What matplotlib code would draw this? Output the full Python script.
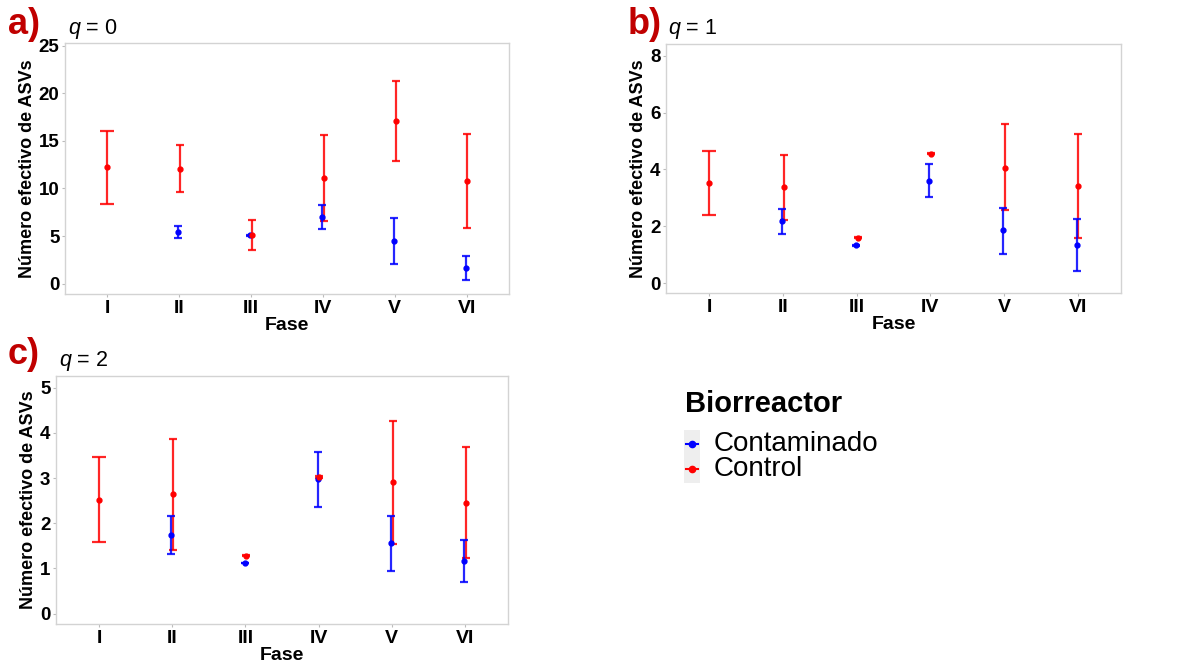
import matplotlib
matplotlib.use("Agg")
import matplotlib.pyplot as plt
from matplotlib.lines import Line2D
from matplotlib.patches import Rectangle

plt.rcParams['font.family'] = ['Liberation Sans', 'DejaVu Sans']
plt.rcParams['mathtext.fontset'] = 'custom'
plt.rcParams['mathtext.it'] = 'Liberation Sans:italic'
plt.rcParams['mathtext.rm'] = 'Liberation Sans'

phases = ["I", "II", "III", "IV", "V", "VI"]

# q = 0
a_ctrl_mean = [12.24, 12.10, 5.10, 11.08, 17.08, 10.80]
a_ctrl_low = [8.38, 9.64, 3.58, 6.59, 12.87, 5.89]
a_ctrl_high = [16.06, 14.52, 6.66, 15.60, 21.32, 15.71]
a_cont_mean = [None, 5.43, 5.08, 7.01, 4.52, 1.65]
a_cont_low = [None, 4.84, 5.00, 5.75, 2.07, 0.35]
a_cont_high = [None, 6.07, 5.15, 8.24, 6.91, 2.88]

# q = 1
b_ctrl_mean = [3.53, 3.37, 1.60, 4.56, 4.06, 3.43]
b_ctrl_low = [2.39, 2.22, 1.58, 4.54, 2.56, 1.58]
b_ctrl_high = [4.66, 4.52, 1.62, 4.58, 5.60, 5.26]
b_cont_mean = [None, 2.19, 1.33, 3.61, 1.87, 1.34]
b_cont_low = [None, 1.74, 1.31, 3.04, 1.04, 0.42]
b_cont_high = [None, 2.60, 1.35, 4.20, 2.66, 2.26]

# q = 2
c_ctrl_mean = [2.52, 2.64, 1.28, 3.02, 2.91, 2.45]
c_ctrl_low = [1.58, 1.41, 1.27, 3.00, 1.55, 1.22]
c_ctrl_high = [3.46, 3.87, 1.29, 3.04, 4.26, 3.68]
c_cont_mean = [None, 1.74, 1.12, 2.97, 1.56, 1.17]
c_cont_low = [None, 1.31, 1.11, 2.35, 0.95, 0.71]
c_cont_high = [None, 2.16, 1.13, 3.57, 2.17, 1.63]

RED = "#FF0000"
BLUE = "#0000FF"
W, H = 1194, 664

fig = plt.figure(figsize=(W / 100, H / 100), dpi=100)


def ax_at(x0, y0, x1, y1):
    return fig.add_axes([x0 / W, 1 - y1 / H, (x1 - x0) / W, (y1 - y0) / H])


def panel(ax, ctrl, cont, ylim, yticks, label, qtxt, lab_xy, q_xy):
    cm, cl, ch = ctrl
    bm, bl, bh = cont
    for i in range(len(phases)):
        x = i + 1
        paired = bm[i] is not None
        off = 0.012 if paired else 0.0
        cap = 2.8 if paired else 5.2
        ax.errorbar([x + off], [cm[i]], yerr=[[cm[i] - cl[i]], [ch[i] - cm[i]]],
                    fmt='none', ecolor=RED, elinewidth=1.6, capsize=cap,
                    capthick=1.6, alpha=0.85, zorder=2)
        if paired:
            ax.errorbar([x - off], [bm[i]], yerr=[[bm[i] - bl[i]], [bh[i] - bm[i]]],
                        fmt='none', ecolor=BLUE, elinewidth=1.6, capsize=cap,
                        capthick=1.6, alpha=0.85, zorder=2)
    for i in range(len(phases)):
        x = i + 1
        paired = bm[i] is not None
        off = 0.012 if paired else 0.0
        if paired:
            ax.plot([x - off], [bm[i]], 'o', color=BLUE, ms=3.5, zorder=3)
        ax.plot([x + off], [cm[i]], 'o', color=RED, ms=3.5, zorder=3)

    ax.set_xlim(0.41, 6.59)
    ax.set_ylim(*ylim)
    ax.set_xticks(range(1, 7))
    ax.set_xticklabels(phases, fontsize=14, fontweight='bold')
    ax.set_yticks(yticks)
    ax.set_yticklabels([str(t) for t in yticks], fontsize=13.5, fontweight='bold')
    ax.tick_params(length=2, color='#BBBBBB', pad=2)
    for s in ax.spines.values():
        s.set_color('#D3D3D3')
        s.set_linewidth(1.0)
    ax.set_xlabel("Fase", fontsize=14, fontweight='bold', labelpad=0)
    ax.set_ylabel("Número efectivo de ASVs", fontsize=13, fontweight='bold', labelpad=2)
    fig.text(lab_xy[0] / W, 1 - lab_xy[1] / H, label, fontsize=26, fontweight='bold',
             color='#C00000', ha='left', va='baseline')
    fig.text(q_xy[0] / W, 1 - q_xy[1] / H, qtxt, fontsize=15.5, ha='left', va='baseline')


axa = ax_at(65, 43, 509, 294)
panel(axa, (a_ctrl_mean, a_ctrl_low, a_ctrl_high), (a_cont_mean, a_cont_low, a_cont_high),
      (-1.1, 25.3), [0, 5, 10, 15, 20, 25], "a)", r"$q$ = 0", (8, 34), (68, 34))

axb = ax_at(666, 44, 1121, 293)
panel(axb, (b_ctrl_mean, b_ctrl_low, b_ctrl_high), (b_cont_mean, b_cont_low, b_cont_high),
      (-0.35, 8.42), [0, 2, 4, 6, 8], "b)", r"$q$ = 1", (628, 34), (668, 34))

axc = ax_at(56, 376, 508, 624)
panel(axc, (c_ctrl_mean, c_ctrl_low, c_ctrl_high), (c_cont_mean, c_cont_low, c_cont_high),
      (-0.23, 5.26), [0, 1, 2, 3, 4, 5], "c)", r"$q$ = 2", (8, 364), (59, 366))

# Legend
fig.text(685 / W, 1 - 412 / H, "Biorreactor", fontsize=21, fontweight='bold',
         ha='left', va='baseline')
fig.patches.append(Rectangle((684 / W, 1 - 483 / H), 16 / W, 53 / H,
                             transform=fig.transFigure, facecolor='#EEEEEE',
                             edgecolor='none'))
for yy, col, name in [(444, BLUE, "Contaminado"), (469, RED, "Control")]:
    fig.add_artist(Line2D([686 / W, 698 / W], [1 - yy / H, 1 - yy / H],
                          transform=fig.transFigure, color=col, lw=1.5))
    fig.add_artist(Line2D([692 / W], [1 - yy / H], transform=fig.transFigure,
                          color=col, marker='o', ms=4.5, lw=0))
    fig.text(714 / W, 1 - yy / H, name, fontsize=20, ha='left', va='center')

fig.savefig("out.png", dpi=100)
